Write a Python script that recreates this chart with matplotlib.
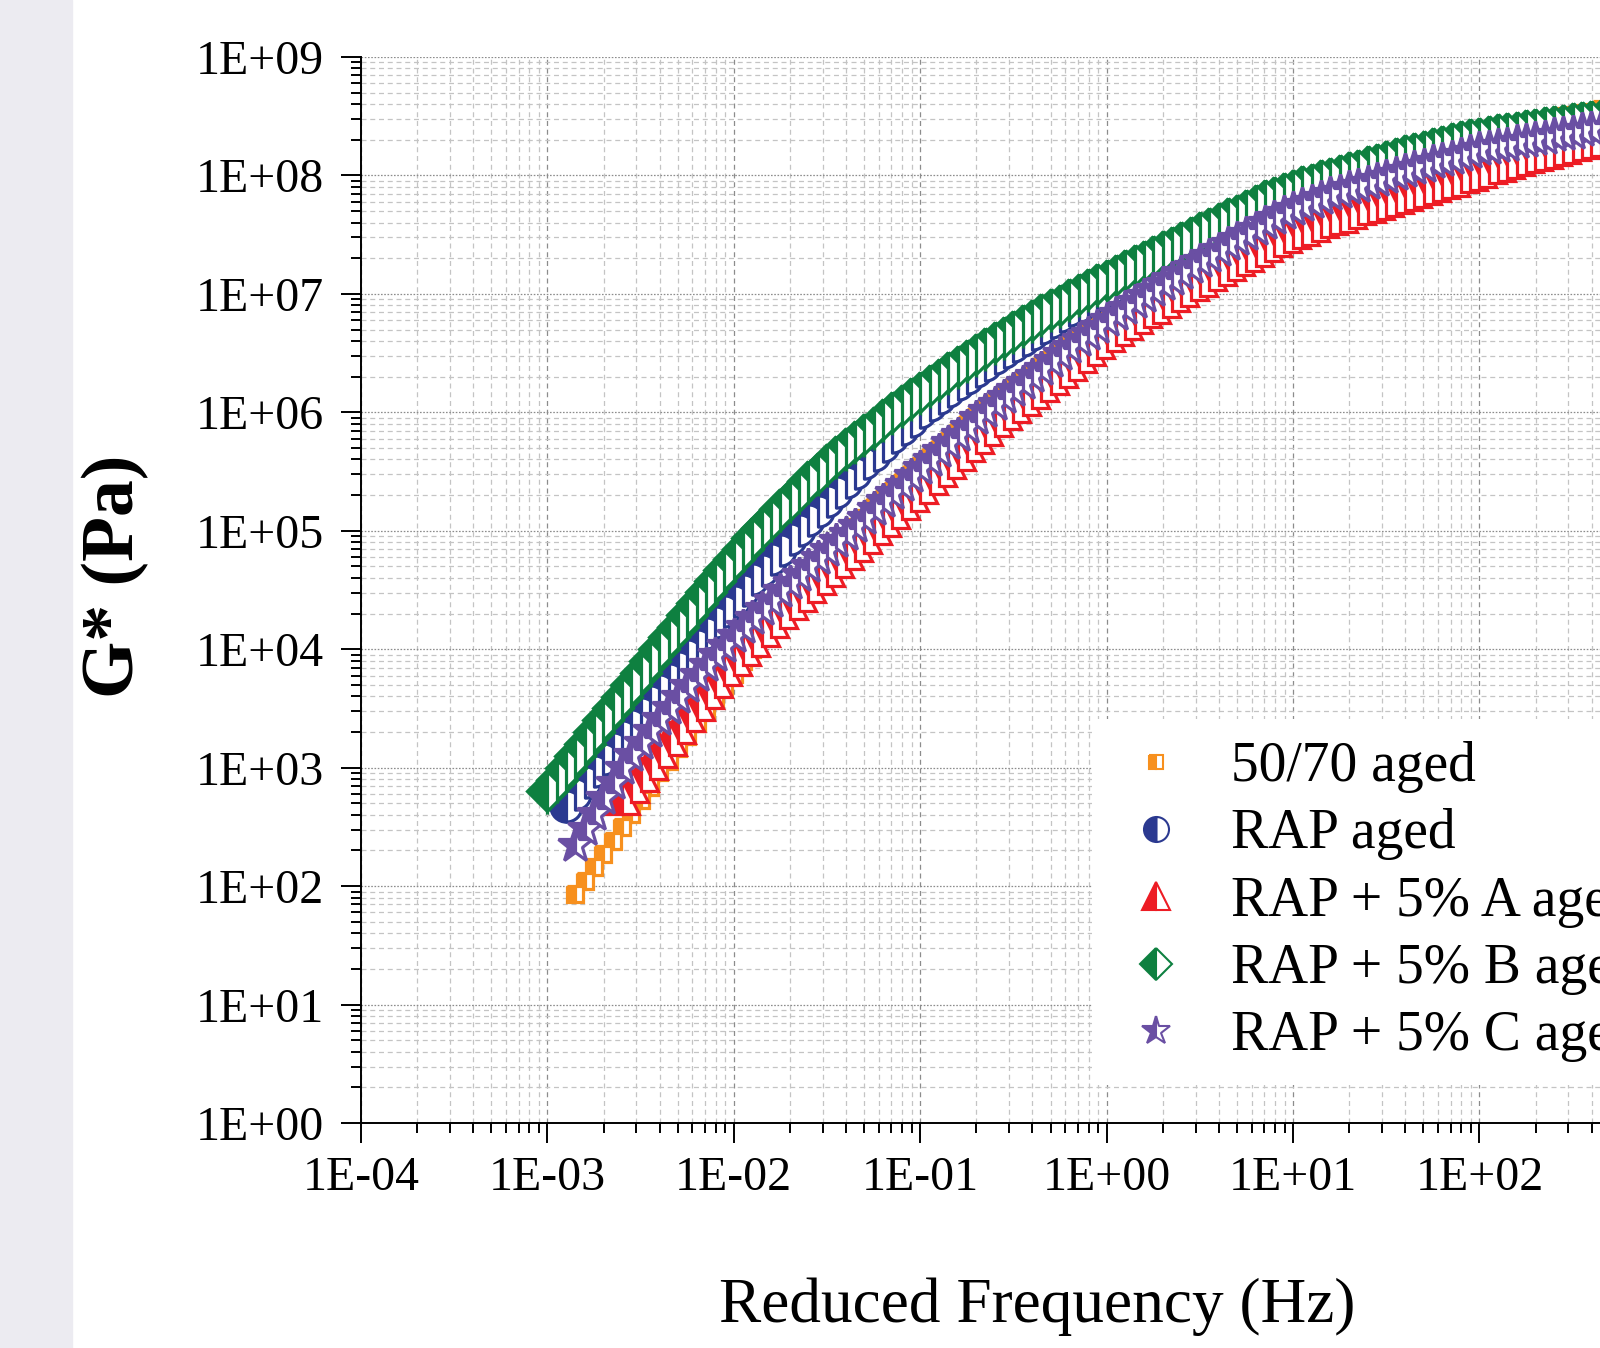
import numpy as np
import matplotlib
matplotlib.use('Agg')
import matplotlib.pyplot as plt
from matplotlib.ticker import LogLocator, FuncFormatter
from matplotlib.patches import Rectangle

# log10 of reduced frequency (Hz), shared by all series
log_freq = [-3.00, -2.95, -2.90, -2.85, -2.80, -2.75, -2.70, -2.65, -2.60, -2.55,
            -2.50, -2.45, -2.40, -2.35, -2.30, -2.25, -2.20, -2.15, -2.10, -2.05,
            -2.00, -1.95, -1.90, -1.85, -1.80, -1.75, -1.70, -1.65, -1.60, -1.55,
            -1.50, -1.45, -1.40, -1.35, -1.30, -1.25, -1.20, -1.15, -1.10, -1.05,
            -1.00, -0.95, -0.90, -0.85, -0.80, -0.75, -0.70, -0.65, -0.60, -0.55,
            -0.50, -0.45, -0.40, -0.35, -0.30, -0.25, -0.20, -0.15, -0.10, -0.05,
            0.00, 0.05, 0.10, 0.15, 0.20, 0.25, 0.30, 0.35, 0.40, 0.45,
            0.50, 0.55, 0.60, 0.65, 0.70, 0.75, 0.80, 0.85, 0.90, 0.95,
            1.00, 1.05, 1.10, 1.15, 1.20, 1.25, 1.30, 1.35, 1.40, 1.45,
            1.50, 1.55, 1.60, 1.65, 1.70, 1.75, 1.80, 1.85, 1.90, 1.95,
            2.00, 2.05, 2.10, 2.15, 2.20, 2.25, 2.30, 2.35, 2.40, 2.45,
            2.50, 2.55, 2.60, 2.65, 2.70]

labels = ['50/70 aged', 'RAP aged', 'RAP + 5% A aged', 'RAP + 5% B aged', 'RAP + 5% C aged']

# log10 of G* (Pa); None = no measurement at that frequency
log_g_5070 = [None, None, None,
              1.93, 2.04, 2.16, 2.27, 2.38, 2.50, 2.61, 2.73, 2.84, 2.96,
              3.06, 3.17, 3.27, 3.38, 3.48, 3.59, 3.69, 3.79, 3.90, 4.00,
              4.10, 4.19, 4.29, 4.38, 4.48, 4.57, 4.67, 4.76, 4.85, 4.94, 5.03, 5.11,
              5.20, 5.27, 5.34, 5.41, 5.48, 5.55, 5.62, 5.69, 5.76, 5.83,
              5.90, 5.97, 6.03, 6.09, 6.15, 6.21, 6.27, 6.33, 6.39, 6.45,
              6.51, 6.57, 6.63, 6.68, 6.74, 6.80, 6.86, 6.91, 6.96, 7.01,
              7.06, 7.11, 7.16, 7.20, 7.25, 7.30, 7.35, 7.39, 7.44, 7.48,
              7.53, 7.57, 7.61, 7.65, 7.68, 7.72,
              7.76, 7.79, 7.83, 7.86, 7.90, 7.93, 7.96, 8.00, 8.03, 8.06,
              8.09, 8.12, 8.15, 8.18, 8.21, 8.24, 8.26, 8.28, 8.30, 8.32,
              8.34, 8.36, 8.38, 8.40, 8.42, 8.44, 8.46, 8.48, 8.50, 8.51,
              8.53, 8.54, 8.56, 8.57]

log_g_rap = [None, None,
             2.68, 2.78, 2.88, 2.97, 3.07, 3.17, 3.27, 3.36, 3.46, 3.56,
             3.66, 3.75, 3.85, 3.95, 4.04, 4.14, 4.23, 4.32, 4.41,
             4.50, 4.59, 4.67, 4.76, 4.84, 4.93, 5.01, 5.09, 5.17, 5.25,
             5.33, 5.41, 5.49, 5.57, 5.64, 5.72, 5.79, 5.86, 5.93, 6.00,
             6.06, 6.12, 6.18, 6.24, 6.29, 6.35, 6.40, 6.46, 6.51, 6.56,
             6.61, 6.66, 6.71, 6.76, 6.81, 6.86, 6.90, 6.95, 6.99, 7.03,
             7.07, 7.11, 7.15,
             7.20, 7.24, 7.28, 7.32, 7.36, 7.40, 7.44, 7.48, 7.52, 7.56,
             7.59, 7.63, 7.67, 7.71, 7.74, 7.77, 7.80,
             7.83, 7.85, 7.88, 7.90, 7.92, 7.95, 7.97, 8.00, 8.02, 8.04,
             8.07, 8.09, 8.11, 8.13, 8.15, 8.17, 8.19, 8.21, 8.23, 8.25,
             8.26, 8.27, 8.29, 8.30, 8.31, 8.32, 8.34, 8.35, 8.36, 8.37,
             8.38, 8.39, 8.40, 8.41]

log_g_a = [None, None, None, None, None, None, None, None,
           2.75, 2.85, 2.95, 3.05, 3.15, 3.25, 3.35, 3.45, 3.55, 3.65, 3.74, 3.84, 3.93,
           4.01, 4.09, 4.17, 4.25, 4.32, 4.40, 4.47, 4.54, 4.61, 4.68,
           4.75, 4.82, 4.89, 4.96, 5.03, 5.10, 5.17, 5.24, 5.31, 5.38,
           5.45, 5.52, 5.59, 5.66, 5.73, 5.80, 5.87, 5.94, 6.00,
           6.06, 6.12, 6.18, 6.24, 6.30, 6.36, 6.42, 6.48, 6.54, 6.60, 6.66,
           6.71, 6.76, 6.81, 6.86, 6.90, 6.95, 7.00, 7.04, 7.09, 7.13,
           7.18, 7.22, 7.26, 7.30, 7.34, 7.38, 7.42, 7.46, 7.50, 7.53,
           7.56, 7.59, 7.62, 7.65, 7.67, 7.70, 7.73, 7.75, 7.78, 7.80,
           7.83, 7.85, 7.88, 7.90, 7.93, 7.95, 7.97, 8.00, 8.02,
           8.05, 8.08, 8.10, 8.12, 8.15, 8.17, 8.19, 8.21, 8.23, 8.25,
           8.27, 8.29, 8.31, 8.33, 8.35]

log_g_b = [2.80, 2.90, 3.00, 3.10, 3.20, 3.30, 3.40, 3.50, 3.60, 3.70,
           3.80, 3.90, 4.00, 4.10, 4.19, 4.29, 4.39, 4.48, 4.58, 4.67, 4.76,
           4.85, 4.94, 5.02, 5.10, 5.18, 5.26, 5.34, 5.42, 5.49, 5.56,
           5.63, 5.70, 5.76, 5.82, 5.88, 5.94, 6.00,
           6.06, 6.12, 6.17, 6.23, 6.28, 6.34, 6.39, 6.44, 6.49, 6.54,
           6.59, 6.64, 6.69, 6.74, 6.78, 6.83, 6.87, 6.91, 6.96, 7.00,
           7.04, 7.08, 7.12, 7.16, 7.20, 7.24, 7.28, 7.32, 7.36, 7.40,
           7.44, 7.48, 7.52, 7.56, 7.60, 7.64, 7.67, 7.71, 7.75, 7.79, 7.82,
           7.85, 7.88, 7.91, 7.93, 7.96, 7.98, 8.00, 8.03, 8.05, 8.08,
           8.10, 8.12, 8.15, 8.17, 8.19, 8.21, 8.23, 8.25, 8.27, 8.29, 8.31,
           8.32, 8.33, 8.35, 8.36, 8.37, 8.38, 8.39, 8.41, 8.42, 8.43,
           8.44, 8.45, 8.46, 8.47, 8.48]

log_g_c = [None, None, None,
           2.35, 2.48, 2.61, 2.74, 2.87, 3.00,
           3.11, 3.21, 3.31, 3.41, 3.50, 3.60, 3.69, 3.78, 3.87, 3.95, 4.03, 4.11,
           4.19, 4.26, 4.34, 4.41, 4.49, 4.56, 4.63, 4.70, 4.77, 4.84,
           4.91, 4.97, 5.04, 5.11, 5.18, 5.25, 5.32, 5.39, 5.46, 5.53,
           5.60, 5.67, 5.74, 5.81, 5.88, 5.95,
           6.01, 6.07, 6.13, 6.19, 6.25, 6.31, 6.37, 6.43, 6.49, 6.55,
           6.61, 6.66, 6.72, 6.78,
           6.83, 6.88, 6.93, 6.98, 7.03, 7.08, 7.13, 7.18, 7.23, 7.28,
           7.32, 7.37, 7.42, 7.46, 7.51, 7.55, 7.60, 7.64, 7.68, 7.72,
           7.75, 7.78, 7.81, 7.84, 7.86, 7.89, 7.91, 7.94, 7.96, 7.99,
           8.01, 8.04, 8.06, 8.08, 8.11, 8.13, 8.15, 8.17, 8.20,
           8.22, 8.23, 8.25, 8.26, 8.28, 8.29, 8.31, 8.32, 8.34, 8.35,
           8.36, 8.38, 8.39, 8.40, 8.41]

series = [log_g_5070, log_g_rap, log_g_a, log_g_b, log_g_c]
colors = ['#F7901E', '#2B3990', '#ED1C24', '#0E8040', '#6A4FA3']
markers = ['s', 'o', '^', 'D', '*']
msizes = [9.5, 18, 20, 16, 21]
plot_scale = 1.25  # markers in the plot overlap more than in the key

plt.rcParams['font.family'] = ['Liberation Serif', 'DejaVu Serif']

fig = plt.figure(figsize=(16, 13.48), dpi=100)
fig.patches.append(Rectangle((0, 0), 72 / 1600, 1, transform=fig.transFigure,
                             color='#ECEBF1', zorder=0))
ax = fig.add_axes([0.2256, 0.1669, 0.8156, 0.7908])

freq = 10 ** np.array(log_freq)
for vals, lab, c, m, s in zip(series, labels, colors, markers, msizes):
    g = 10 ** np.array(vals, dtype=float)
    ax.plot(freq, g, linestyle='none', marker=m, markersize=s * plot_scale, color=c,
            markerfacecolor=c, markeredgecolor=c, markerfacecoloralt='white',
            fillstyle='left', markeredgewidth=2.3, label=lab)

ax.set_xscale('log')
ax.set_yscale('log')
ax.set_xlim(1e-4, 1e3)
ax.set_ylim(1, 1e9)

fmt = FuncFormatter(lambda v, p: '1E%+03d' % round(np.log10(v)))
for axis in (ax.xaxis, ax.yaxis):
    axis.set_major_locator(LogLocator(base=10, numticks=20))
    axis.set_minor_locator(LogLocator(base=10, subs=np.arange(2, 10), numticks=20))
    axis.set_major_formatter(fmt)

ax.tick_params(which='major', direction='out', length=14.4, width=1.4, labelsize=34.5)
ax.tick_params(which='minor', direction='out', length=7.2, width=1.4)
ax.tick_params(axis='y', which='major', pad=12)
ax.tick_params(axis='x', which='major', pad=9)

for side in ('top', 'right'):
    ax.spines[side].set_visible(False)
for side in ('left', 'bottom'):
    ax.spines[side].set_linewidth(1.4)

ax.set_axisbelow(True)
ax.grid(True, which='minor', color='#c4c4c4', linestyle=(0, (4, 3)), linewidth=0.9)
ax.grid(True, which='major', axis='x', color='#8c8c8c', linestyle=(0, (4, 3)), linewidth=0.9)
ax.grid(True, which='major', axis='y', color='#8c8c8c', linestyle=(0, (1.3, 1.3)), linewidth=0.9)

leg = ax.legend(loc='upper left', bbox_to_anchor=(1092 / 1600, 1 - 719 / 1348),
                bbox_transform=fig.transFigure, frameon=True, fancybox=False,
                edgecolor='none', facecolor='white', framealpha=1, fontsize=40,
                numpoints=1, borderpad=0.4, handlelength=1.5, handletextpad=0.6,
                labelspacing=0.275, borderaxespad=0)
for h, s in zip(leg.legend_handles, msizes):
    h.set_markersize(s)
    h.set_markeredgewidth(1.5)

ax.set_xlabel('Reduced Frequency (Hz)', fontsize=45.5)
ax.xaxis.label.set_verticalalignment('center')
ax.xaxis.set_label_coords(0.518, -0.172)
ax.set_ylabel('G* (Pa)', fontsize=53, fontweight='bold')
ax.yaxis.label.set_verticalalignment('center')
ax.yaxis.set_label_coords(-0.1885, 0.513)

fig.savefig('out.png', dpi=100)
